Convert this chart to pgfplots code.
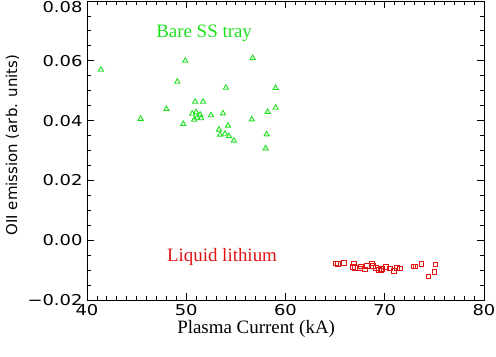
\documentclass[border=0pt]{standalone}
\usepackage{fontspec}
\setmainfont{Liberation Serif}
\newfontfamily\tickfont[FakeStretch=1.2]{DejaVu Sans}
\newfontfamily\labfont{DejaVu Sans}
\usepackage{pgfplots}
\pgfplotsset{compat=1.18}
\definecolor{bgreen}{RGB}{30,225,30}
\definecolor{bred}{RGB}{225,20,20}
\begin{document}
\begin{tikzpicture}
\begin{axis}[
  name=ax,
  scale only axis,
  width=397bp, height=299bp,
  xmin=40, xmax=80, ymin=-0.02, ymax=0.08,
  xtick={40,50,60,70,80},
  xticklabels={40,50,60,70,80},
  ytick={-0.02,0,0.02,0.04,0.06,0.08},
  yticklabels={−0.02,0.00,0.02,0.04,0.06,\raisebox{-11.5bp}[0pt][0pt]{0.08}},
  minor x tick num=9,
  minor y tick num=3,
  tick align=inside,
  major tick length=7bp,
  minor tick length=4bp,
  axis line style={line width=0.8pt},
  every tick/.style={black, line width=0.8pt},
  ticklabel style={font=\tickfont\fontsize{15}{15}\selectfont},
  xticklabel style={yshift=-1bp},
  yticklabel style={xshift=-1bp},
  xlabel={Plasma Current (kA)},
  ylabel={OII emission (arb. units)},
  xlabel style={font=\fontsize{19}{19}\selectfont, at={(axis description cs:0.426,-0.1137)}, anchor=base},
  ylabel style={font=\labfont\fontsize{15}{15}\selectfont, at={(axis description cs:-0.1763,0.518)}, anchor=base},
  clip=false,
]
\addplot[only marks, mark=triangle, mark size=3bp, color=bgreen, line width=0.9pt] coordinates {
(41.4,0.0570) (45.4,0.0406) (48.0,0.0439) (49.1,0.0530) (49.9,0.0600)
(49.7,0.0389) (50.9,0.0463) (51.7,0.0463) (50.6,0.0423) (51.0,0.0428)
(51.4,0.0420) (50.8,0.0403) (51.5,0.0408) (51.1,0.0410) (52.5,0.0418)
(53.7,0.0424) (54.0,0.0510) (53.3,0.0370) (53.4,0.0353) (54.2,0.0383)
(53.9,0.0356) (54.3,0.0348) (54.8,0.0333) (56.7,0.0609) (56.6,0.0404)
(58.2,0.0429) (58.1,0.0354) (58.0,0.0307) (59.0,0.0509) (59.0,0.0443)
};
\addplot[only marks, mark=square, mark size=2.3bp, color=bred, line width=0.7pt] coordinates {
(65.1,-0.0078) (65.3,-0.0079) (65.9,-0.0075) (66.9,-0.0078) (66.8,-0.0089)
(67.0,-0.0092) (67.5,-0.0094) (67.6,-0.0087) (68.0,-0.0097) (68.2,-0.0086)
(68.7,-0.0078) (68.8,-0.0086) (69.1,-0.0092) (69.4,-0.0099) (69.6,-0.0101)
(69.7,-0.0096) (70.1,-0.0089) (70.5,-0.0094) (70.9,-0.0103) (71.2,-0.0092)
(71.5,-0.0094) (72.9,-0.0087) (73.1,-0.0087) (73.7,-0.0079) (74.4,-0.0121)
(75.0,-0.0106) (75.1,-0.0081)
};
\node[anchor=base, text=bgreen, font=\fontsize{19}{19}\selectfont] at (axis cs:51.8,0.0677) {Bare SS tray};
\node[anchor=base, text=bred, font=\fontsize{19}{19}\selectfont] at (axis cs:53.6,-0.0070) {Liquid lithium};
\end{axis}
\pgfresetboundingbox
\path ([shift={(-87bp,-57bp)}]ax.south west) rectangle ([shift={(12bp,1bp)}]ax.north east);
\end{tikzpicture}
\end{document}
